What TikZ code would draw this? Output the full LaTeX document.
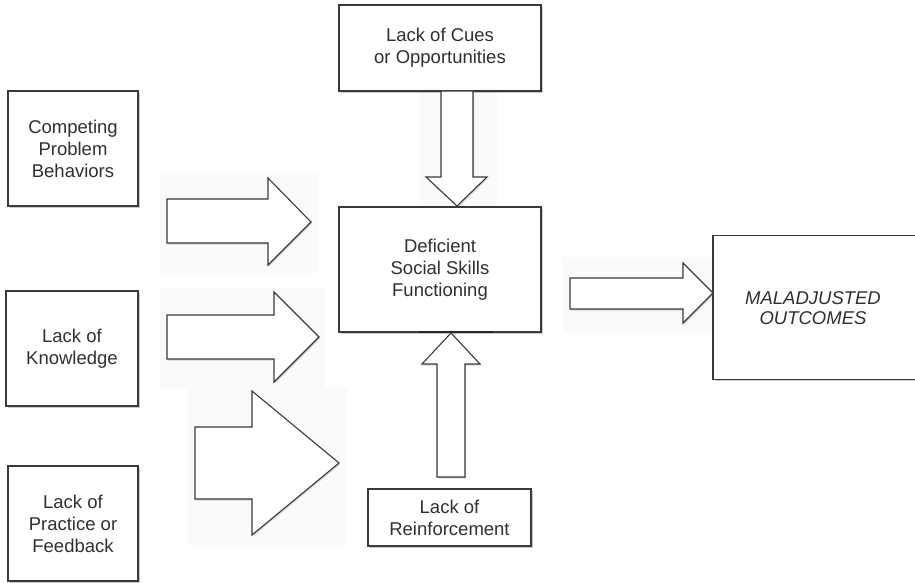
\documentclass[tikz,border=0pt]{standalone}
\usepackage{fontspec}
\setmainfont{Liberation Sans}
\usetikzlibrary{shadows}
\definecolor{ink}{HTML}{303030}
\definecolor{edge}{HTML}{3A3A3A}
\definecolor{faint}{HTML}{FAFAFA}
\tikzset{
  box/.style={draw=edge, line width=1.1pt, fill=white, align=center, inner sep=0pt,
    font=\fontsize{18.5}{22}\selectfont, text=ink,
    drop shadow={shadow xshift=1.5pt, shadow yshift=-2pt, opacity=0.35, fill=black!60}},
  openbox/.style={draw=edge, line width=1.1pt},
  blockarrow/.style={draw=edge, line width=1.1pt, fill=white, line join=miter,
    drop shadow={shadow xshift=1pt, shadow yshift=-1.5pt, opacity=0.25, fill=black!60}},
  arrowbg/.style={fill=faint, draw=none},
  lbl/.style={align=center, inner sep=0pt, font=\fontsize{18.5}{22}\selectfont, text=ink}
}
\begin{document}
\begin{tikzpicture}[x=1pt,y=-1pt]
\useasboundingbox (0,0) rectangle (915,583);
\clip (0,0) rectangle (915,583);
\fill[white] (0,0) rectangle (915,583);

% faint backgrounds behind the block arrows
\fill[arrowbg] (160,173) rectangle (318,273);
\fill[arrowbg] (160,288) rectangle (325,388);
\fill[arrowbg] (188,387) rectangle (347,545);
\fill[arrowbg] (563,257) rectangle (713,333);
\fill[arrowbg] (420,92) rectangle (497,206);

% boxes
\node[box, minimum width=130pt, minimum height=115pt] (comp) at (73,148.5) {Competing\\Problem\\Behaviors};
\node[box, minimum width=132pt, minimum height=115pt] (know) at (72,348.5) {Lack of\\Knowledge};
\node[box, minimum width=130pt, minimum height=115pt] (prac) at (73,523.5) {Lack of\\Practice or\\Feedback};
\node[box, minimum width=202pt, minimum height=86pt] (cues) at (440,48) {Lack of Cues\\or Opportunities};
\node[box, minimum width=202pt, minimum height=125pt] (defi) at (440,269.5) {Deficient\\Social Skills\\Functioning};
\node[box, minimum width=163pt, minimum height=57pt] (reinf) at (449.5,517.5) {Lack of\\Reinforcement};

% outcome box, running off the right edge of the picture
\node[minimum width=210pt, minimum height=143pt, inner sep=0pt, anchor=west] (mal) at (713,307.5) {};
\fill[black!60, opacity=0.35] ([xshift=1.5pt,yshift=-2pt]mal.north west) rectangle ([xshift=1.5pt,yshift=-2pt]mal.south east);
\fill[white] (mal.north west) rectangle (mal.south east);
\draw[openbox] (mal.north east) -- (mal.north west) -- (mal.south west) -- (mal.south east);
\node[lbl, font=\fontsize{18.5}{20}\selectfont\itshape] (maltext) at (813,308) {MALADJUSTED\\OUTCOMES};

% bold segment at bottom of central box
\coordinate (segL) at (419,332);
\coordinate (segR) at (493,332);
\draw[line width=2.6pt, black!85] (segL) -- (segR);

% block arrows
\draw[blockarrow] (167,199) -- (268,199) -- (268,178) -- (311,222) -- (268,265) -- (268,243) -- (167,243) -- cycle;
\draw[blockarrow] (167,315) -- (274,315) -- (274,292) -- (319,337) -- (274,382) -- (274,359) -- (167,359) -- cycle;
\draw[blockarrow] (195,427) -- (252,427) -- (252,391) -- (339,463) -- (252,535) -- (252,499) -- (195,499) -- cycle;
\draw[blockarrow] (441,91) -- (473,91) -- (473,177) -- (487,177) -- (457,206) -- (426,177) -- (441,177) -- cycle;
\draw[blockarrow] (437,477) -- (437,364) -- (422,364) -- (451,333) -- (480,364) -- (465,364) -- (465,477) -- cycle;
\draw[blockarrow] (570,278) -- (683,278) -- (683,263) -- (713,293) -- (683,323) -- (683,309) -- (570,309) -- cycle;
\end{tikzpicture}
\end{document}
